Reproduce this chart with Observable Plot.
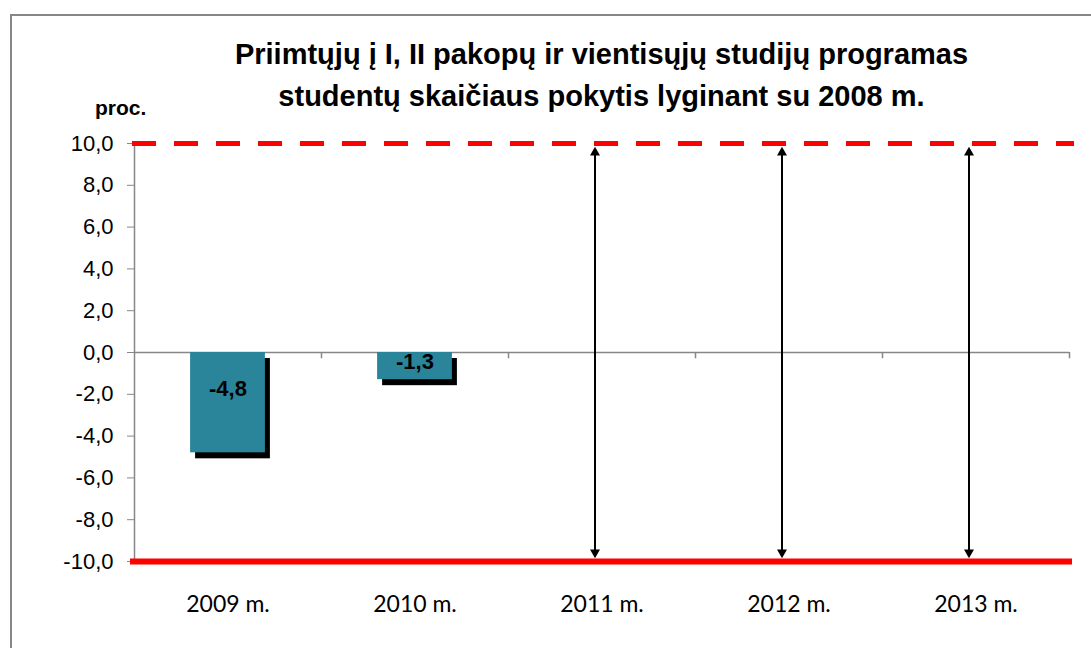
<!DOCTYPE html>
<html>
<head>
<meta charset="utf-8">
<script src="https://cdn.jsdelivr.net/npm/d3@7"></script>
<script src="https://cdn.jsdelivr.net/npm/@observablehq/plot@0.6"></script>
<style>
  html, body { margin: 0; padding: 0; overflow: hidden; background: #fff; width: 1091px; height: 648px; }
  #frame { position: absolute; left: 10px; top: 14px; width: 1200px; height: 800px; border-left: 2px solid #878787; border-top: 2px solid #878787; }
  #title { position: absolute; left: 134px; width: 935px; top: 33px; text-align: center; font-family: "Liberation Sans", Arial, sans-serif; font-weight: bold; font-size: 29px; line-height: 42px; color: #000; }
  #title span { display: inline-block; white-space: nowrap; }
  #unit { position: absolute; left: 95px; top: 96px; font-family: "Liberation Sans", Arial, sans-serif; font-weight: bold; font-size: 21px; color: #000; }
  #chart { position: absolute; left: 0; top: 0; }
</style>
</head>
<body>
<div id="frame"></div>
<div id="chart"></div>
<div id="title"><span>Priimtųjų į I, II pakopų ir vientisųjų studijų programas</span><br><span>studentų skaičiaus pokytis lyginant su 2008 m.</span></div>
<div id="unit">proc.</div>
<script>
const categories = ["2009 m.", "2010 m.", "2011 m.", "2012 m.", "2013 m."];
const values = [-4.8, -1.3, null, null, null];
const arrowCategories = ["2011 m.", "2012 m.", "2013 m."];
const yTicks = [-10, -8, -6, -4, -2, 0, 2, 4, 6, 8, 10];
const upperLimit = 10;
const lowerLimit = -10;

const data = categories.map((c, i) => ({category: c, value: values[i]})).filter(d => d.value != null);

const W = 1091, H = 648;
const mL = 134, mR = 22, mT = 143, mB = 87;
const bw = (W - mL - mR) / categories.length;
const fmt = d => d.toFixed(1).replace(".", ",");

const chart = Plot.plot({
  width: W,
  height: H,
  marginLeft: mL,
  marginRight: mR,
  marginTop: mT,
  marginBottom: mB,
  style: {background: "transparent", overflow: "visible"},
  x: {type: "band", domain: categories, padding: 0, label: null},
  y: {domain: [-10, 10], label: null},
  marks: [
    Plot.axisY({ticks: yTicks, tickFormat: fmt, tickSize: 7, tickPadding: 14, stroke: "#878787", fill: "#000", fontSize: 22, fontFamily: "Liberation Sans, Arial, sans-serif", label: null}),
    Plot.axisX({tickSize: 0, tickPadding: 34, fontSize: 23, fontFamily: "Lato, sans-serif", fill: "#000", label: null}),
    Plot.frame({anchor: "left", stroke: "#878787", strokeWidth: 1.5}),
    Plot.ruleY([0], {stroke: "#878787", strokeWidth: 1.5}),
    Plot.ruleX(categories, {x: d => d, dx: bw / 2, y1: 0, y2: -0.3, stroke: "#878787", strokeWidth: 1.5}),
    Plot.barY(data, {x: "category", y: "value", fill: "#000", insetLeft: bw * 0.3, insetRight: bw * 0.3, dx: 5, dy: 6}),
    Plot.barY(data, {x: "category", y: "value", fill: "#2a859b", insetLeft: bw * 0.3, insetRight: bw * 0.3}),
    Plot.text(data, {x: "category", y: d => d.value * 0.36, text: d => fmt(d.value), fontWeight: "bold", fontSize: 22, fontFamily: "Liberation Sans, Arial, sans-serif", fill: "#000"}),
    Plot.ruleY([upperLimit], {stroke: "#ff0000", strokeWidth: 5, strokeDasharray: "24,18", insetLeft: -2, insetRight: -5}),
    Plot.ruleY([lowerLimit], {stroke: "#ff0000", strokeWidth: 6, insetLeft: -4, insetRight: -3}),
    Plot.ruleX(arrowCategories, {x: d => d, y1: upperLimit, y2: lowerLimit, dx: -7, insetTop: 8, insetBottom: 8, stroke: "#000", strokeWidth: 2}),
    Plot.dot(arrowCategories, {x: d => d, y: upperLimit, dx: -7, dy: 9, symbol: "triangle", r: 3.7, fill: "#000", stroke: "none"}),
    Plot.dot(arrowCategories, {x: d => d, y: lowerLimit, dx: -7, dy: -9, symbol: "triangle", r: 3.7, rotate: 180, fill: "#000", stroke: "none"})
  ]
});
document.getElementById("chart").appendChild(chart);
</script>
</body>
</html>
